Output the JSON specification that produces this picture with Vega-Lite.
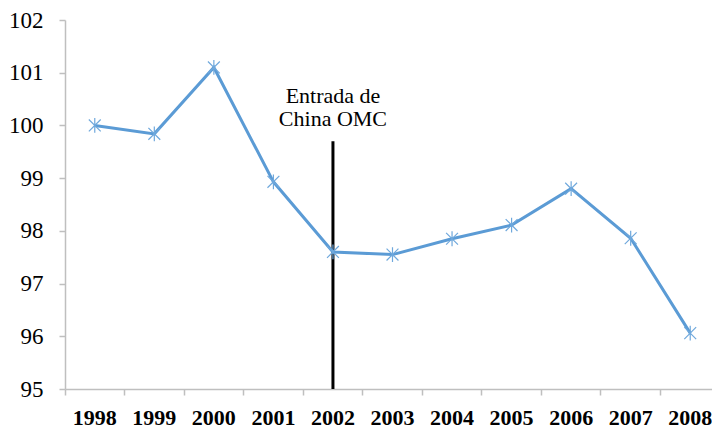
{
  "$schema": "https://vega.github.io/schema/vega-lite/v6.json",
  "autosize": {"type": "none"},
  "padding": {"left": 65, "top": 20, "right": 0, "bottom": 40},
  "width": 647,
  "height": 369,
  "background": "white",
  "config": {"view": {"stroke": null}, "font": "Liberation Serif"},
  "datasets": {
    "series": [
      {"year": "1998", "value": 100.0},
      {"year": "1999", "value": 99.84},
      {"year": "2000", "value": 101.1},
      {"year": "2001", "value": 98.93},
      {"year": "2002", "value": 97.6},
      {"year": "2003", "value": 97.55},
      {"year": "2004", "value": 97.85},
      {"year": "2005", "value": 98.11},
      {"year": "2006", "value": 98.8},
      {"year": "2007", "value": 97.86},
      {"year": "2008", "value": 96.06}
    ],
    "event": [
      {"year": "2002", "y0": 95, "y1": 99.7, "ty": 100.75, "label": ["Entrada de", "China OMC"]}
    ]
  },
  "encoding": {
    "x": {
      "field": "year", "type": "nominal", "sort": null,
      "scale": {"domain": ["1998", "1999", "2000", "2001", "2002", "2003", "2004", "2005", "2006", "2007", "2008"], "range": [0, 655], "paddingInner": 0, "paddingOuter": 0},
      "axis": {
        "title": null, "labelAngle": 0, "bandPosition": 0, "grid": false,
        "domainColor": "#BFBFBF", "domainWidth": 1.5, "tickColor": "#BFBFBF", "tickWidth": 1.5, "tickSize": 6,
        "labelFont": "Liberation Serif", "labelFontSize": 22, "labelFontWeight": "bold", "labelColor": "#000000",
        "labelPadding": 12, "labelOverlap": false
      }
    }
  },
  "layer": [
    {
      "data": {"name": "event"},
      "mark": {"type": "rule", "color": "#000000", "strokeWidth": 3},
      "encoding": {
        "y": {"field": "y0", "type": "quantitative"},
        "y2": {"field": "y1"}
      }
    },
    {
      "data": {"name": "event"},
      "mark": {"type": "text", "baseline": "top", "align": "center", "fontSize": 22, "lineHeight": 23, "color": "#000000", "font": "Liberation Serif"},
      "encoding": {
        "y": {"field": "ty", "type": "quantitative"},
        "text": {"field": "label"}
      }
    },
    {
      "data": {"name": "series"},
      "mark": {"type": "line", "color": "#5B9BD5", "strokeWidth": 3},
      "encoding": {
        "y": {
          "field": "value", "type": "quantitative",
          "scale": {"domain": [95, 102], "nice": false, "zero": false},
          "axis": {
            "title": null, "grid": false, "values": [95, 96, 97, 98, 99, 100, 101, 102], "format": "d",
            "domainColor": "#BFBFBF", "domainWidth": 1.5, "tickColor": "#BFBFBF", "tickWidth": 1.5, "tickSize": 6,
            "labelFont": "Liberation Serif", "labelFontSize": 23, "labelColor": "#000000", "labelPadding": 16,
            "labelOverlap": false
          }
        }
      }
    },
    {
      "data": {"name": "series"},
      "mark": {"type": "point", "shape": "M-0.8,-0.8L0.8,0.8M-0.8,0.8L0.8,-0.8M0,-1L0,1", "filled": false, "stroke": "#6FA8DC", "strokeWidth": 1.2, "size": 220, "opacity": 1},
      "encoding": {
        "y": {"field": "value", "type": "quantitative"}
      }
    }
  ]
}
